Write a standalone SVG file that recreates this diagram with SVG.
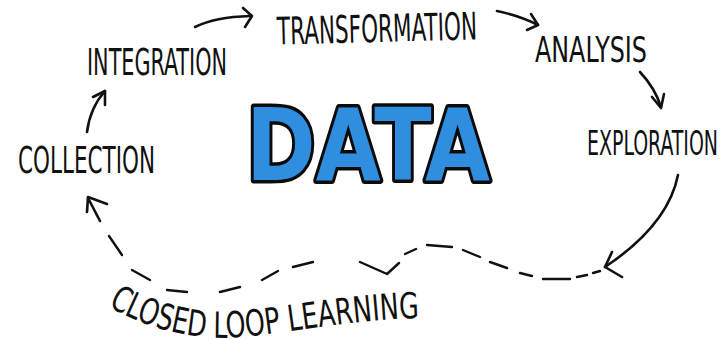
<svg xmlns="http://www.w3.org/2000/svg" width="720" height="340" viewBox="0 0 720 340">
  <style>
    .hand { font-family: "DejaVu Sans Condensed", "DejaVu Sans", "Liberation Sans", sans-serif; fill: #111; font-weight: normal; }
    .line { fill: none; stroke: #111; stroke-width: 2.6; stroke-linecap: round; stroke-linejoin: round; }
    .dash { fill: none; stroke: #111; stroke-width: 2.4; stroke-linecap: round; stroke-linejoin: round; }
    .big { font-family: "DejaVu Sans", "Liberation Sans", sans-serif; font-weight: bold; fill: #2f8ee0; stroke: #0b0b0b; stroke-width: 7; stroke-linejoin: round; paint-order: stroke; }
  </style>
  <defs>
    <path id="loopBase" d="M108,306 C150,331 200,341 240,337 C290,333 360,318 430,318"/>
  </defs>
  <rect width="720" height="340" fill="#ffffff"/>

  <g id="data">
    <text class="big" x="246" y="180" font-size="100" textLength="244" lengthAdjust="spacingAndGlyphs">DATA</text>
  </g>

  <g id="transformation">
    <text class="hand" x="277" y="42" font-size="38" textLength="200" lengthAdjust="spacingAndGlyphs" transform="rotate(-1.5 377 30)">TRANSFORMATION</text>
  </g>
  <g id="analysis">
    <text class="hand" x="535" y="62" font-size="36" textLength="112" lengthAdjust="spacingAndGlyphs">ANALYSIS</text>
  </g>
  <g id="exploration">
    <text class="hand" x="587" y="155" font-size="34" textLength="131" lengthAdjust="spacingAndGlyphs">EXPLORATION</text>
  </g>
  <g id="integration">
    <text class="hand" x="87" y="75" font-size="37" textLength="140" lengthAdjust="spacingAndGlyphs">INTEGRATION</text>
  </g>
  <g id="collection">
    <text class="hand" x="18" y="173" font-size="38" textLength="137" lengthAdjust="spacingAndGlyphs">COLLECTION</text>
  </g>
  <g id="closed-loop-learning">
    <text class="hand" font-size="36"><textPath href="#loopBase" textLength="318" lengthAdjust="spacingAndGlyphs">CLOSED LOOP LEARNING</textPath></text>
  </g>

  <g id="connectors">
    <!-- integration -> transformation -->
    <path class="line" d="M195,27 Q215,17 250,16"/>
    <path class="line" d="M243,8 L252,16 L245,27"/>
    <!-- transformation -> analysis -->
    <path class="line" d="M497,11 Q520,16 538,25"/>
    <path class="line" d="M531,14 L538,25 L527,30"/>
    <!-- analysis -> exploration -->
    <path class="line" d="M640,72 Q655,88 661,107"/>
    <path class="line" d="M652,97 L661,108 L664,94"/>
    <!-- exploration -> loop -->
    <path class="line" d="M678,175 Q668,225 605,267"/>
    <path class="line" d="M612,252 L605,267 L622,277"/>
    <!-- dashed loop -->
    <path class="dash" d="M600,271 L593,273 M587,275 L577,277 M570,279 L543,279 M532,276 L520,273 M507,268 L490,262 M480,257 L463,250 M452,247 L427,245 M416,249 L405,254 M399,263 L387,274 L360,262 M313,262 L293,267 M278,271 L262,280 M240,287 L220,292 M187,292 L167,290 M150,280 L132,270 M122,255 L109,236"/>
    <!-- loop -> collection -->
    <path class="line" d="M100,221 L88,198"/>
    <path class="line" d="M87,212 L88,197 L107,204"/>
    <!-- collection -> integration -->
    <path class="line" d="M87,132 Q90,108 105,91"/>
    <path class="line" d="M93,97 L105,91 L105,105"/>
  </g>
</svg>
